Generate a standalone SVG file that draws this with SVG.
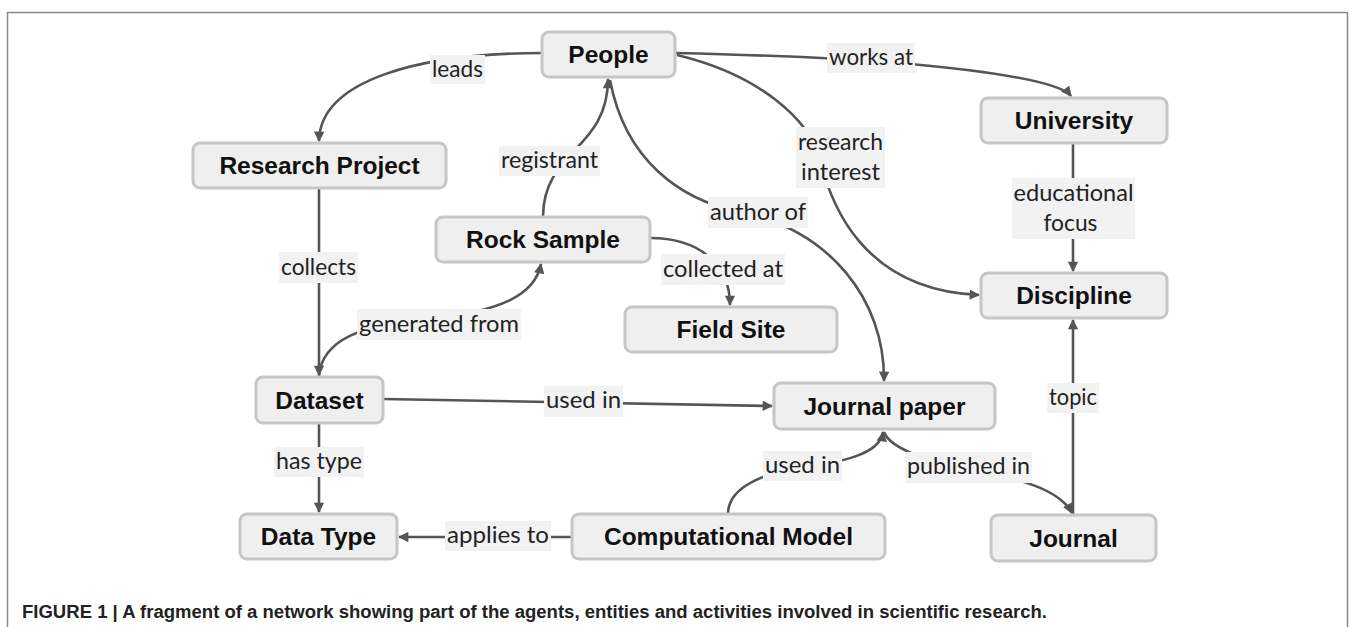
<svg xmlns="http://www.w3.org/2000/svg" width="1357" height="627" viewBox="0 0 1357 627">
<defs>
<marker id="ah" viewBox="0 0 10 10" refX="9" refY="5" markerWidth="4.2" markerHeight="4" markerUnits="strokeWidth" orient="auto">
<path d="M0,0 L10,5 L0,10 z" fill="#555"/>
</marker>
<style>
.node rect{fill:#efefef;stroke:#c6c6c6;stroke-width:3}
.node text{font-family:"Liberation Sans",Arial,sans-serif;font-weight:bold;font-size:24.5px;fill:#111;text-anchor:middle}
.edges path{fill:none;stroke:#555;stroke-width:2.6}
.lbl rect{fill:#f2f2f2}
.lbl text{font-family:"Lato","Liberation Sans",sans-serif;font-size:22.5px;fill:#222;text-anchor:middle}
.cap{font-family:"Liberation Sans",Arial,sans-serif;font-weight:bold;font-size:18px;fill:#222}
</style>
</defs>
<rect x="7.5" y="12.5" width="1340" height="640" fill="#fff" stroke="#8a8a8a" stroke-width="1.5"/>
<g id="connectors" class="edges">
<path d="M542,53 C420,53 320,80 319,141" marker-end="url(#ah)"/>
<path d="M319,188 L319,375" marker-end="url(#ah)"/>
<path d="M543,217 C543,150 608,150 608,79" marker-end="url(#ah)"/>
<path d="M610,80 C625,160 680,200 740,212 C830,230 885,300 884,381" marker-end="url(#ah)"/>
<path d="M675,53 C760,55 840,58 900,63 C990,71 1060,82 1071,96" marker-end="url(#ah)"/>
<path d="M677,55 C760,75 810,120 820,160 C830,200 860,290 979,295" marker-end="url(#ah)"/>
<path d="M1073,143 L1073,271" marker-end="url(#ah)"/>
<path d="M650,238 C700,238 730,265 730,305" marker-end="url(#ah)"/>
<path d="M319,376 C322,340 360,325 430,318 C500,312 535,295 541,264" marker-end="url(#ah)"/>
<path d="M383,399 L772,406" marker-end="url(#ah)"/>
<path d="M319,423 L319,512" marker-end="url(#ah)"/>
<path d="M572,537 L399,537" marker-end="url(#ah)"/>
<path d="M728,514 C728,485 770,472 800,468 C840,462 880,455 883,432" marker-end="url(#ah)"/>
<path d="M884,432 C890,450 940,465 970,470 C1020,478 1060,490 1072,513" marker-end="url(#ah)"/>
<path d="M1073,515 L1073,320" marker-end="url(#ah)"/>
</g>
<g id="labels" class="lbl">
<rect x="430" y="55" width="55" height="29"/><text x="457.5" y="77" textLength="51" lengthAdjust="spacingAndGlyphs">leads</text>
<rect x="499" y="146" width="101" height="30"/><text x="549.5" y="168" textLength="97" lengthAdjust="spacingAndGlyphs">registrant</text>
<rect x="279" y="252" width="79" height="31"/><text x="318.5" y="275" textLength="75" lengthAdjust="spacingAndGlyphs">collects</text>
<rect x="357" y="309" width="164" height="31"/><text x="439" y="332" textLength="160" lengthAdjust="spacingAndGlyphs">generated from</text>
<rect x="544" y="386" width="79" height="31"/><text x="583.5" y="408" textLength="75" lengthAdjust="spacingAndGlyphs">used in</text>
<rect x="274" y="447" width="90" height="30"/><text x="319" y="469" textLength="86" lengthAdjust="spacingAndGlyphs">has type</text>
<rect x="445" y="521" width="106" height="30"/><text x="498" y="543" textLength="102" lengthAdjust="spacingAndGlyphs">applies to</text>
<rect x="827" y="43" width="88" height="30"/><text x="871" y="65" textLength="84" lengthAdjust="spacingAndGlyphs">works at</text>
<rect x="796" y="127" width="89" height="61"/><text x="840.5" y="150" textLength="85" lengthAdjust="spacingAndGlyphs">research</text><text x="840.5" y="180" textLength="79" lengthAdjust="spacingAndGlyphs">interest</text>
<rect x="1012" y="178" width="123" height="61"/><text x="1073.5" y="201" textLength="120" lengthAdjust="spacingAndGlyphs">educational</text><text x="1070.5" y="231" textLength="54" lengthAdjust="spacingAndGlyphs">focus</text>
<rect x="708" y="197" width="100" height="31"/><text x="758" y="220" textLength="96" lengthAdjust="spacingAndGlyphs">author of</text>
<rect x="661" y="254" width="124" height="31"/><text x="723" y="277" textLength="120" lengthAdjust="spacingAndGlyphs">collected at</text>
<rect x="1047" y="383" width="52" height="30"/><text x="1073" y="405" textLength="48" lengthAdjust="spacingAndGlyphs">topic</text>
<rect x="763" y="451" width="79" height="30"/><text x="802.5" y="473" textLength="75" lengthAdjust="spacingAndGlyphs">used in</text>
<rect x="905" y="452" width="127" height="31"/><text x="968.5" y="474" textLength="123" lengthAdjust="spacingAndGlyphs">published in</text>
</g>
<g id="people" class="node"><rect x="542" y="32" width="133" height="45" rx="7"/><text x="608.5" y="63">People</text></g>
<g id="research-project" class="node"><rect x="193" y="143" width="253" height="45" rx="7"/><text x="319.5" y="174">Research Project</text></g>
<g id="rock-sample" class="node"><rect x="436" y="217" width="214" height="45" rx="7"/><text x="543" y="248">Rock Sample</text></g>
<g id="university" class="node"><rect x="981" y="98" width="186" height="45" rx="7"/><text x="1074" y="129">University</text></g>
<g id="discipline" class="node"><rect x="981" y="273" width="186" height="45" rx="7"/><text x="1074" y="304">Discipline</text></g>
<g id="field-site" class="node"><rect x="625" y="307" width="212" height="45" rx="7"/><text x="731" y="338">Field Site</text></g>
<g id="dataset" class="node"><rect x="256" y="377" width="127" height="46" rx="7"/><text x="319.5" y="408.5">Dataset</text></g>
<g id="data-type" class="node"><rect x="240" y="514" width="157" height="45" rx="7"/><text x="318.5" y="545">Data Type</text></g>
<g id="computational-model" class="node"><rect x="572" y="514" width="313" height="45" rx="7"/><text x="728.5" y="545">Computational Model</text></g>
<g id="journal-paper" class="node"><rect x="774" y="383" width="221" height="46" rx="7"/><text x="884.5" y="414.5">Journal paper</text></g>
<g id="journal" class="node"><rect x="991" y="515" width="165" height="46" rx="7"/><text x="1073.5" y="546.5">Journal</text></g>
<text class="cap" x="22" y="618" textLength="1025" lengthAdjust="spacingAndGlyphs">FIGURE 1 | A fragment of a network showing part of the agents, entities and activities involved in scientific research.</text>
</svg>
